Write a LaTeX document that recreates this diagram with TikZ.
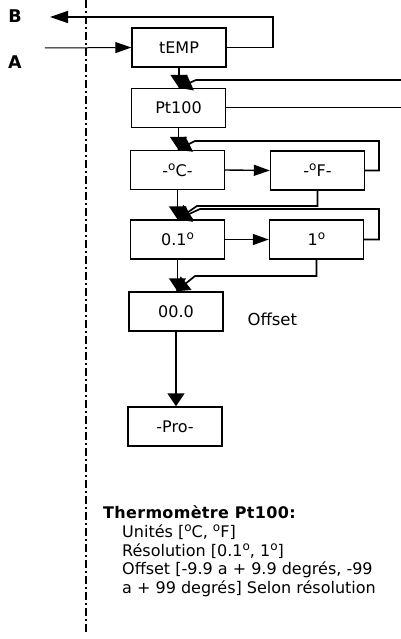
\documentclass[tikz,border=0pt]{standalone}
\usepackage{fontspec}
\setmainfont{DejaVu Sans}
\usetikzlibrary{arrows.meta}
% 上标小圈 º（DejaVu 的 º 带下划线）
\newcommand\dego{\raisebox{0.36em}{\scalebox{0.75}{o}}}
\begin{document}
\begin{tikzpicture}[x=1pt, y=-1pt, font=\fontsize{16}{19}\selectfont,
  box/.style={draw, line width=1.4pt, minimum width=94pt, minimum height=39pt, inner sep=0pt},
  vflow/.style={line width=1.7pt, -{Triangle[length=13pt,width=17pt]}},
  hflow/.style={line width=1.4pt, -{Triangle[length=16pt,width=11pt]}},
  wire/.style={line width=1pt},
  tag/.style={font=\fontsize{17.5}{20}\selectfont\bfseries}]
  \useasboundingbox (0,0) rectangle (401,639);
  % 左侧点划分隔线
  \draw[line width=1.8pt, dash pattern=on 8pt off 3pt on 2pt off 3pt] (86,0) -- (86,632);

  % 菜单方框（中心坐标按像素取）
  \node[box] (temp) at (179,47.5) {tEMP};
  \node[box] (pt) at (178.5,108) {Pt100};
  \node[box] (degc) at (177.5,170) {-\dego C-};
  \node[box] (degf) at (317.5,170.5) {-\dego F-};
  \node[box] (dix) at (177.5,239.5) {0.1\dego};
  \node[box] (un) at (316.5,239.5) {1\dego};
  \node[box] (zero) at (176,311.5) {00.0};
  \node[box] (pro) at (175,426.5) {-Pro-};
  \node[anchor=west, font=\fontsize{16.5}{19}\selectfont] (offlbl) at (244,319) {Offset};

  % 入口 A 与出口 B
  \node[tag] (lblB) at (15,16.5) {B};
  \node[tag] (lblA) at (15,62) {A};
  \coordinate (inA) at (45,48);
  \coordinate (outB) at (50,17);
  \draw[hflow, line width=1pt] (inA) -- (temp.west);
  \draw[line width=1.5pt, -{Triangle[length=18pt,width=12pt]}] (temp.east) -- (273,47.5) |- (outB);

  % 右侧进出线
  \coordinate (retour) at (401,80);
  \coordinate (suite) at (401,108);
  \draw[vflow] (temp.south) -- (temp.south |- pt.north);
  \draw[vflow] (retour) -- (196,80) -- (pt.north);
  \draw[wire] (pt.east) -- (suite);

  % 单位选择
  \draw[vflow] (pt.south) -- (pt.south |- degc.north);
  \draw[hflow] (degc.east) -- (degf.west);
  \draw[vflow] (degf.east) -- (379,170.5) |- (195,141) -- (degc.north);

  % 分辨率选择
  \draw[vflow] (degc.south) -- (degc.south |- dix.north);
  \draw[vflow] (degf.south) |- (197,206) -- (dix.north);
  \draw[hflow] (dix.east) -- (un.west);
  \draw[vflow] (un.east) -- (379,239.5) |- (200,209) -- (dix.north);

  % 偏移量
  \draw[vflow] (dix.south) -- (dix.south |- zero.north);
  \draw[vflow] (un.south) |- (195,276) -- (zero.north);
  \draw[vflow] (zero.south) -- (zero.south |- pro.north);

  % 说明文字
  \node[anchor=base west, inner sep=0pt, font=\fontsize{16}{19}\selectfont\bfseries\addfontfeature{LetterSpace=2}] (titre) at (103,518) {Thermomètre Pt100:};
  \node[anchor=north west, align=left, inner sep=0pt, font=\fontsize{16}{18.5}\selectfont] (note) at (122,524.5)
    {Unités [\dego C, \dego F]\\Résolution [0.1\dego, 1\dego]\\Offset [-9.9 a + 9.9 degrés, -99\\a + 99 degrés] Selon résolution};
\end{tikzpicture}
\end{document}
